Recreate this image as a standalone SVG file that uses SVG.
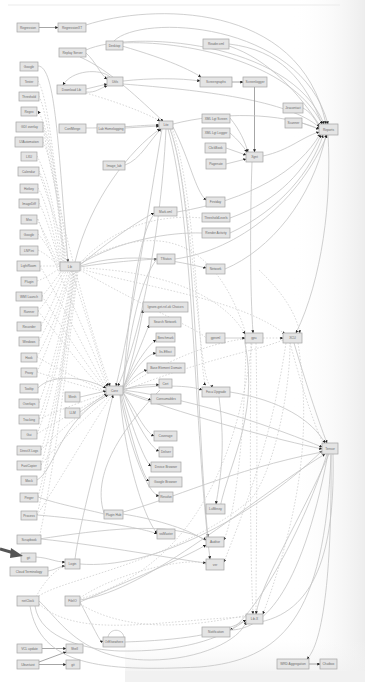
<svg xmlns="http://www.w3.org/2000/svg" width="365" height="682" viewBox="0 0 365 682">
<defs>
<style>
.n rect{fill:#e4e4e4;stroke:#a3a3a3;stroke-width:0.7}
.n text{font-family:"Liberation Sans",Arial,sans-serif;font-size:3.2px;fill:#6a6a6a;text-anchor:middle;dominant-baseline:central}
.e{fill:none;stroke:#c4c4c4;stroke-width:0.8}
.d{fill:none;stroke:#cfcfcf;stroke-width:0.8;stroke-dasharray:1.6 1.6}
.k{fill:none;stroke:#9c9c9c;stroke-width:0.9}
</style>
<marker id="a" viewBox="0 0 6 6" refX="5.5" refY="3" markerWidth="3" markerHeight="3" markerUnits="userSpaceOnUse" orient="auto"><path d="M0 0L6 3L0 6z" fill="#222"/></marker>
<linearGradient id="vg" x1="0" y1="0" x2="1" y2="0"><stop offset="0.8" stop-color="#fff" stop-opacity="0"/><stop offset="1" stop-color="#ededed"/></linearGradient>
<linearGradient id="bg" x1="0" y1="0" x2="0" y2="1"><stop offset="0" stop-color="#f6f6f6" stop-opacity="0"/><stop offset="1" stop-color="#efefef"/></linearGradient>
</defs>
<rect width="365" height="682" fill="#fff"/>
<rect width="365" height="682" fill="url(#vg)"/>
<rect x="125" y="640" width="240" height="42" fill="url(#bg)"/>
<rect x="125" y="671" width="240" height="11" fill="#f1f1f1"/>
<line x1="8" y1="5" x2="340" y2="5" stroke="#ececec" stroke-width="1.2"/>

<g id="edges">
<path class="k" d="M39 27.5L58 27.5" marker-end="url(#a)"/>
<path class="e" d="M86 25C150 4 300 0 326 124" marker-end="url(#a)"/>
<path class="e" d="M114 41C140 14 300 20 328 124" marker-end="url(#a)"/>
<path class="e" d="M86 50C130 30 290 40 324 124" marker-end="url(#a)"/>
<path class="e" d="M86 53C96 62 100 74 107 79" marker-end="url(#a)"/>
<path class="e" d="M86 89L107 84" marker-end="url(#a)"/>
<path class="e" d="M86 92C96 93 100 88 107 86" marker-end="url(#a)"/>
<path class="e" d="M110 77C100 68 72 70 63 85" marker-end="url(#a)"/>
<path class="e" d="M123 81C150 78 180 78 200 81" marker-end="url(#a)"/>
<path class="e" d="M122 46C170 60 190 70 201 77" marker-end="url(#a)"/>
<path class="e" d="M123 84C200 90 290 100 320 128" marker-end="url(#a)"/>
<path class="e" d="M122 43C180 40 290 60 322 124" marker-end="url(#a)"/>
<path class="k" d="M232 82L243 82" marker-end="url(#a)"/>
<path class="k" d="M254.5 87L254.5 152" marker-end="url(#a)"/>
<path class="e" d="M229 44C280 50 305 80 322 124" marker-end="url(#a)"/>
<path class="e" d="M229 46C270 60 300 95 320 126" marker-end="url(#a)"/>
<path class="e" d="M303 108C310 112 315 118 319 127" marker-end="url(#a)"/>
<path class="e" d="M302 123L319 129" marker-end="url(#a)"/>
<path class="e" d="M263 156C290 150 300 138 319 132" marker-end="url(#a)"/>
<path class="e" d="M230 118C240 130 245 142 248 152" marker-end="url(#a)"/>
<path class="e" d="M230 133C238 140 243 146 247 152" marker-end="url(#a)"/>
<path class="e" d="M226 148L246 155" marker-end="url(#a)"/>
<path class="e" d="M226 164L246 159" marker-end="url(#a)"/>
<path class="e" d="M225 269C270 250 312 200 326 135" marker-end="url(#a)"/>
<path class="e" d="M230 233C280 210 312 170 323 135" marker-end="url(#a)"/>
<path class="e" d="M230 218C280 200 305 170 321 135" marker-end="url(#a)"/>
<path class="e" d="M177 212C250 200 300 170 320 134" marker-end="url(#a)"/>
<path class="e" d="M175 259C240 250 300 200 327 135" marker-end="url(#a)"/>
<path class="e" d="M328 135C332 200 322 280 296 333" marker-end="url(#a)"/>
<path class="e" d="M252 162C250 220 250 290 253 333" marker-end="url(#a)"/>
<path class="d" d="M259 270C280 290 295 310 300 333" marker-end="url(#a)"/>
<path class="e" d="M173 124C220 112 280 112 319 129" marker-end="url(#a)"/>
<path class="e" d="M86 128C120 128 140 125 159 125" marker-end="url(#a)"/>
<path class="e" d="M125 128L159 126" marker-end="url(#a)"/>
<path class="e" d="M125 165C140 160 150 140 161 129" marker-end="url(#a)"/>
<path class="d" d="M86 93C110 100 140 110 160 121" marker-end="url(#a)"/>
<path class="e" d="M80 57C110 70 140 100 163 121" marker-end="url(#a)"/>
<path class="e" d="M162 129C150 200 130 330 116 386" marker-end="url(#a)"/>
<path class="e" d="M166 129C160 250 135 350 118 386" marker-end="url(#a)"/>
<path class="e" d="M75 262C90 200 130 150 160 129" marker-end="url(#a)"/>
<path class="e" d="M170 129C196 200 196 420 208 537" marker-end="url(#a)"/>
<path class="e" d="M168 129C194 220 194 430 210 559" marker-end="url(#a)"/>
<path class="d" d="M172 128C198 200 199 380 206 385" marker-end="url(#a)"/>
<path class="d" d="M171 129C197 220 198 400 213 385" marker-end="url(#a)"/>
<path class="e" d="M173 127C190 160 195 190 206 200" marker-end="url(#a)"/>
<path class="e" d="M38 66C56 66 58 150 68 262" marker-end="url(#a)"/>
<path class="d" d="M43 142C53 160 60 220 66 262"/>
<path class="d" d="M38 81C50 100 58 200 65 262"/>
<path class="d" d="M39 96C50 120 58 200 64 262"/>
<path class="d" d="M68 262C60 200 50 130 38 111" marker-end="url(#a)"/>
<path class="d" d="M43 127C52 150 60 220 63 262"/>
<path class="d" d="M37 156C50 180 58 230 62 262"/>
<path class="d" d="M39 171C50 190 56 235 61 263"/>
<path class="d" d="M38 188C48 205 55 240 60 264"/>
<path class="d" d="M39 203C48 220 54 245 60 265"/>
<path class="d" d="M37 219C46 235 54 255 60 266"/>
<path class="d" d="M38 234C48 245 54 260 60 267"/>
<path class="d" d="M38 250C48 255 55 262 60 268"/>
<path class="d" d="M40 266L60 266"/>
<path class="d" d="M37 281C46 278 54 272 60 268"/>
<path class="d" d="M42 296C48 290 56 278 62 271"/>
<path class="d" d="M38 311C48 300 56 285 64 271"/>
<path class="d" d="M41 326C50 310 58 290 66 271"/>
<path class="d" d="M39 341C50 320 60 300 68 271"/>
<path class="d" d="M37 357C52 330 62 300 70 271"/>
<path class="d" d="M37 372C52 340 64 300 71 271"/>
<path class="d" d="M39 403C55 360 64 320 72 271"/>
<path class="d" d="M39 419C56 370 65 320 73 271"/>
<path class="d" d="M37 434C55 390 66 320 74 271"/>
<path class="d" d="M41 450C58 400 66 330 75 271"/>
<path class="d" d="M41 465C58 410 67 330 76 271"/>
<path class="d" d="M38 497C58 420 68 340 77 271"/>
<path class="d" d="M39 539C58 450 68 350 78 271"/>
<path class="d" d="M37 515C55 440 66 340 74 272"/>
<path class="d" d="M38 170C60 230 90 330 108 386" marker-end="url(#a)"/>
<path class="d" d="M43 128C60 220 90 330 110 386" marker-end="url(#a)"/>
<path class="d" d="M38 219C60 280 90 340 107 387" marker-end="url(#a)"/>
<path class="d" d="M40 266C60 300 90 360 106 388"/>
<path class="d" d="M42 296C70 340 90 370 106 389"/>
<path class="d" d="M38 311C70 350 90 380 106 390"/>
<path class="d" d="M37 357C60 370 90 385 106 391"/>
<path class="d" d="M37 372C60 380 90 388 106 392"/>
<path class="d" d="M39 419C60 410 90 398 106 394"/>
<path class="d" d="M37 434C60 420 90 402 107 395"/>
<path class="d" d="M41 450C60 430 90 405 108 395"/>
<path class="d" d="M41 465C60 440 95 410 110 395"/>
<path class="d" d="M37 515C60 480 95 420 112 395"/>
<path class="e" d="M38 388C50 375 80 375 106 388" marker-end="url(#a)"/>
<path class="e" d="M80 397L106 391" marker-end="url(#a)"/>
<path class="e" d="M80 412C90 405 100 397 107 394" marker-end="url(#a)"/>
<path class="e" d="M37 480C55 470 60 420 108 395" marker-end="url(#a)"/>
<path class="e" d="M38 497C60 505 90 510 104 514"/>
<path class="e" d="M75 559C80 520 100 450 113 395" marker-end="url(#a)"/>
<path class="e" d="M80 267C110 262 140 260 157 259" marker-end="url(#a)"/>
<path class="e" d="M80 265C110 240 140 220 154 213" marker-end="url(#a)"/>
<path class="e" d="M80 266C130 250 180 262 206 268" marker-end="url(#a)"/>
<path class="e" d="M80 264C120 240 170 232 202 233"/>
<path class="d" d="M80 263C120 220 170 215 202 218"/>
<path class="d" d="M80 268C150 270 220 290 245 334" marker-end="url(#a)"/>
<path class="d" d="M80 269C160 290 240 300 285 334" marker-end="url(#a)"/>
<path class="d" d="M80 262C140 230 210 220 246 334"/>
<path class="d" d="M80 270C150 310 200 330 206 338"/>
<path class="e" d="M123 389C130 370 140 330 143 310" marker-end="url(#a)"/>
<path class="e" d="M123 388C135 360 145 335 149 325" marker-end="url(#a)"/>
<path class="e" d="M123 388C135 365 148 345 156 340" marker-end="url(#a)"/>
<path class="e" d="M123 389C135 370 145 355 156 353" marker-end="url(#a)"/>
<path class="e" d="M123 390C130 380 140 372 147 370" marker-end="url(#a)"/>
<path class="e" d="M123 390C135 385 150 384 159 385" marker-end="url(#a)"/>
<path class="e" d="M123 391C135 395 145 398 151 400" marker-end="url(#a)"/>
<path class="e" d="M123 392C135 410 145 432 154 436" marker-end="url(#a)"/>
<path class="e" d="M123 392C135 420 150 448 159 451" marker-end="url(#a)"/>
<path class="e" d="M122 393C133 430 145 462 151 466" marker-end="url(#a)"/>
<path class="e" d="M121 394C132 440 143 478 149 481" marker-end="url(#a)"/>
<path class="e" d="M120 394C130 450 148 494 159 496" marker-end="url(#a)"/>
<path class="e" d="M120 395C125 460 145 520 157 533" marker-end="url(#a)"/>
<path class="e" d="M123 388C130 330 140 280 157 259"/>
<path class="e" d="M123 387C130 300 140 230 155 213"/>
<path class="e" d="M123 390C200 400 280 430 322 447" marker-end="url(#a)"/>
<path class="e" d="M123 392C200 420 280 440 322 449" marker-end="url(#a)"/>
<path class="d" d="M123 389C180 350 230 340 245 339"/>
<path class="d" d="M123 391C200 360 260 350 283 340"/>
<path class="e" d="M123 389C160 385 190 385 202 390" marker-end="url(#a)"/>
<path class="e" d="M230 392C280 400 312 420 325 443" marker-end="url(#a)"/>
<path class="e" d="M294 343C305 380 318 420 327 443" marker-end="url(#a)"/>
<path class="d" d="M290 343C300 380 312 420 323 443"/>
<path class="e" d="M219 397C226 450 220 480 216 504" marker-end="url(#a)"/>
<path class="e" d="M219 514C225 470 260 420 245 343"/>
<path class="e" d="M225 338L245 338" marker-end="url(#a)"/>
<path class="d" d="M263 338L283 338" marker-end="url(#a)"/>
<path class="d" d="M251 343C250 450 250 550 253 614" marker-end="url(#a)"/>
<path class="d" d="M256 343C258 450 256 550 256 614"/>
<path class="d" d="M246 343C245 400 240 500 224 540" marker-end="url(#a)"/>
<path class="d" d="M286 343C270 450 240 520 224 562" marker-end="url(#a)"/>
<path class="d" d="M298 343C310 420 305 500 263 614" marker-end="url(#a)"/>
<path class="e" d="M331 454C332 550 326 640 307 659" marker-end="url(#a)"/>
<path class="e" d="M329 454C300 520 262 580 256 614" marker-end="url(#a)"/>
<path class="e" d="M327 454C300 540 250 620 230 630" marker-end="url(#a)"/>
<path class="e" d="M333 454C335 540 320 610 260 622"/>
<path class="k" d="M309 664L320 664" marker-end="url(#a)"/>
<path class="k" d="M42 648.5L66 648.5" marker-end="url(#a)"/>
<path class="k" d="M39 664.5L66 664.5" marker-end="url(#a)"/>
<path class="k" d="M39 662L66 652" marker-end="url(#a)"/>
<path class="e" d="M36 557C50 558 55 562 65 562" marker-end="url(#a)"/>
<path class="e" d="M48 571C55 570 60 566 65 566" marker-end="url(#a)"/>
<path class="e" d="M80 564C150 570 250 520 322 451" marker-end="url(#a)"/>
<path class="e" d="M80 600C150 590 250 500 325 454" marker-end="url(#a)"/>
<path class="e" d="M80 602C100 640 100 642 103 641" marker-end="url(#a)"/>
<path class="e" d="M108 637C110 628 122 628 124 637"/>
<path class="e" d="M39 601C60 620 80 660 150 660C200 660 240 640 246 622" marker-end="url(#a)"/>
<path class="e" d="M30 606C40 665 100 672 200 667C280 660 325 620 331 455"/>
<path class="e" d="M35 606C40 640 90 650 120 651C180 652 220 640 246 620"/>
<path class="e" d="M125 642C180 640 220 635 246 620" marker-end="url(#a)"/>
<path class="e" d="M41 539C100 545 180 560 206 563" marker-end="url(#a)"/>
<path class="e" d="M37 515C100 520 150 530 157 534" marker-end="url(#a)"/>
<path class="e" d="M39 539C100 530 170 520 206 540" marker-end="url(#a)"/>
<path class="e" d="M80 602C130 580 180 560 206 545" marker-end="url(#a)"/>
<path class="d" d="M80 598C120 570 200 555 206 565"/>
<path class="d" d="M36 597C50 570 70 560 80 562"/>
<path class="d" d="M39 596C60 580 180 560 250 500C270 480 290 400 290 343"/>
<path class="d" d="M80 599C150 580 230 520 252 343"/>
<path class="d" d="M80 604C140 640 220 620 254 614"/>
<path class="d" d="M39 604C80 640 160 620 246 617"/>
<path class="e" d="M123 514C160 520 190 530 206 541"/>
<path class="e" d="M123 512C170 500 230 470 322 452"/>
<path class="e" d="M104 513C90 470 130 420 160 390"/>
<path class="e" d="M230 630C260 630 300 600 328 454"/>
</g>

<g id="n1" class="n"><rect x="17" y="23" width="22" height="9"/><text x="28" y="27.5">Regression</text></g>
<g id="n2" class="n"><rect x="58" y="23" width="28" height="9"/><text x="72" y="27.5">RegressionXT</text></g>
<g id="n3" class="n"><rect x="59" y="48" width="27" height="9"/><text x="72.5" y="52.5">Replay Server</text></g>
<g id="n4" class="n"><rect x="106" y="41" width="17" height="9"/><text x="114.5" y="45.5">Desktop</text></g>
<g id="n5" class="n"><rect x="107" y="77" width="16" height="9"/><text x="115" y="81.5">Utils</text></g>
<g id="n6" class="n"><rect x="57" y="85" width="29" height="9"/><text x="71.5" y="89.5">Download Lib</text></g>
<g id="n7" class="n"><rect x="20" y="62" width="18" height="9"/><text x="29" y="66.5">Google</text></g>
<g id="n8" class="n"><rect x="20" y="77" width="18" height="9"/><text x="29" y="81.5">Tester</text></g>
<g id="n9" class="n"><rect x="19" y="92" width="20" height="9"/><text x="29" y="96.5">Threshold</text></g>
<g id="n10" class="n"><rect x="21" y="107" width="16" height="9"/><text x="29" y="111.5">Regex</text></g>
<g id="n11" class="n"><rect x="16" y="122" width="27" height="10"/><text x="29.5" y="127">GDI overlay</text></g>
<g id="n12" class="n"><rect x="15" y="137" width="28" height="10"/><text x="29" y="142">UIAutomation</text></g>
<g id="n13" class="n"><rect x="21" y="152" width="16" height="9"/><text x="29" y="156.5">LXU</text></g>
<g id="n14" class="n"><rect x="18" y="167" width="21" height="9"/><text x="28.5" y="171.5">Calendar</text></g>
<g id="n15" class="n"><rect x="20" y="184" width="18" height="9"/><text x="29" y="188.5">Hotkey</text></g>
<g id="n16" class="n"><rect x="19" y="199" width="20" height="9"/><text x="29" y="203.5">ImageDiff</text></g>
<g id="n17" class="n"><rect x="21" y="215" width="16" height="9"/><text x="29" y="219.5">Mss</text></g>
<g id="n18" class="n"><rect x="20" y="230" width="18" height="9"/><text x="29" y="234.5">Google</text></g>
<g id="n19" class="n"><rect x="20" y="246" width="18" height="9"/><text x="29" y="250.5">LNP.ini</text></g>
<g id="n20" class="n"><rect x="17" y="261" width="23" height="10"/><text x="28.5" y="266">LightRoom</text></g>
<g id="n21" class="n"><rect x="21" y="277" width="16" height="9"/><text x="29" y="281.5">Plugin</text></g>
<g id="n22" class="n"><rect x="16" y="292" width="26" height="9"/><text x="29" y="296.5">WMI Launch</text></g>
<g id="n23" class="n"><rect x="20" y="307" width="18" height="9"/><text x="29" y="311.5">Runner</text></g>
<g id="n24" class="n"><rect x="17" y="322" width="24" height="9"/><text x="29" y="326.5">Recorder</text></g>
<g id="n25" class="n"><rect x="19" y="337" width="20" height="9"/><text x="29" y="341.5">Windows</text></g>
<g id="n26" class="n"><rect x="21" y="353" width="16" height="9"/><text x="29" y="357.5">Hook</text></g>
<g id="n27" class="n"><rect x="21" y="368" width="16" height="9"/><text x="29" y="372.5">Proxy</text></g>
<g id="n28" class="n"><rect x="20" y="384" width="18" height="9"/><text x="29" y="388.5">Tooltip</text></g>
<g id="n29" class="n"><rect x="19" y="399" width="20" height="9"/><text x="29" y="403.5">Overlays</text></g>
<g id="n30" class="n"><rect x="19" y="415" width="20" height="9"/><text x="29" y="419.5">Tracking</text></g>
<g id="n31" class="n"><rect x="21" y="430" width="16" height="9"/><text x="29" y="434.5">Gui</text></g>
<g id="n32" class="n"><rect x="17" y="446" width="24" height="9"/><text x="29" y="450.5">DirectX Logs</text></g>
<g id="n33" class="n"><rect x="17" y="461" width="24" height="9"/><text x="29" y="465.5">FastCopier</text></g>
<g id="n34" class="n"><rect x="21" y="476" width="16" height="9"/><text x="29" y="480.5">Mock</text></g>
<g id="n35" class="n"><rect x="20" y="493" width="18" height="9"/><text x="29" y="497.5">Pinger</text></g>
<g id="n36" class="n"><rect x="21" y="511" width="16" height="9"/><text x="29" y="515.5">Process</text></g>
<g id="n37" class="n"><rect x="17" y="535" width="24" height="9"/><text x="29" y="539.5">Scrapbook</text></g>
<g id="n38" class="n"><rect x="21" y="553" width="15" height="9"/><text x="28.5" y="557.5">git</text></g>
<g id="n39" class="n"><rect x="10" y="567" width="38" height="9"/><text x="29" y="571.5">Cloud Terminology</text></g>
<g id="n40" class="n"><rect x="17" y="596" width="22" height="10"/><text x="28" y="601">netClock</text></g>
<g id="n41" class="n"><rect x="17" y="644" width="25" height="9"/><text x="29.5" y="648.5">VCL update</text></g>
<g id="n42" class="n"><rect x="17" y="660" width="22" height="9"/><text x="28" y="664.5">Ubuntuist</text></g>
<g id="n43" class="n"><rect x="65" y="559" width="15" height="10"/><text x="72.5" y="564">Login</text></g>
<g id="n44" class="n"><rect x="65" y="596" width="15" height="10"/><text x="72.5" y="601">FileIO</text></g>
<g id="n45" class="n"><rect x="66" y="644" width="17" height="9"/><text x="74.5" y="648.5">Shell</text></g>
<g id="n46" class="n"><rect x="66" y="660" width="14" height="9"/><text x="73" y="664.5">git</text></g>
<g id="n47" class="n"><rect x="103" y="637" width="22" height="10"/><text x="114" y="642">OrElsewhere</text></g>
<g id="n48" class="n"><rect x="65" y="392" width="15" height="10"/><text x="72.5" y="397">Mesh</text></g>
<g id="n49" class="n"><rect x="65" y="408" width="15" height="10"/><text x="72.5" y="413">LLM</text></g>
<g id="n50" class="n"><rect x="60" y="262" width="20" height="9"/><text x="70" y="266.5">Lib</text></g>
<g id="n51" class="n"><rect x="106" y="386" width="17" height="9"/><text x="114.5" y="390.5">Core</text></g>
<g id="n52" class="n"><rect x="104" y="510" width="19" height="9"/><text x="113.5" y="514.5">Plugin Hub</text></g>
<g id="n53" class="n"><rect x="59" y="124" width="27" height="9"/><text x="72.5" y="128.5">ConfMerge</text></g>
<g id="n54" class="n"><rect x="97" y="124" width="28" height="9"/><text x="111" y="128.5">Lab Homelogging</text></g>
<g id="n55" class="n"><rect x="103" y="161" width="22" height="9"/><text x="114" y="165.5">Image_lab</text></g>
<g id="n56" class="n"><rect x="159" y="121" width="14" height="8"/><text x="166" y="125">Lite</text></g>
<g id="n57" class="n"><rect x="203" y="39" width="26" height="10"/><text x="216" y="44">Reader.xml</text></g>
<g id="n58" class="n"><rect x="200" y="77" width="32" height="10"/><text x="216" y="82">Screengraphs</text></g>
<g id="n59" class="n"><rect x="243" y="77" width="24" height="10"/><text x="255" y="82">Screenlogger</text></g>
<g id="n60" class="n"><rect x="202" y="114" width="28" height="9"/><text x="216" y="118.5">XML Lgt Screen</text></g>
<g id="n61" class="n"><rect x="202" y="128" width="28" height="10"/><text x="216" y="133">XML Lgt Logger</text></g>
<g id="n62" class="n"><rect x="205" y="143" width="21" height="10"/><text x="215.5" y="148">ClickBook</text></g>
<g id="n63" class="n"><rect x="206" y="159" width="20" height="10"/><text x="216" y="164">Pagenate</text></g>
<g id="n64" class="n"><rect x="283" y="103" width="20" height="10"/><text x="293" y="108">Jiracontact</text></g>
<g id="n65" class="n"><rect x="285" y="118" width="17" height="10"/><text x="293.5" y="123">Scanner</text></g>
<g id="n66" class="n"><rect x="319" y="124" width="19" height="11"/><text x="328.5" y="129.5">Reports</text></g>
<g id="n67" class="n"><rect x="246" y="152" width="17" height="10"/><text x="254.5" y="157">Xgnt</text></g>
<g id="n68" class="n"><rect x="154" y="207" width="23" height="9"/><text x="165.5" y="211.5">Mark.xml</text></g>
<g id="n69" class="n"><rect x="206" y="197" width="19" height="10"/><text x="215.5" y="202">Firstday</text></g>
<g id="n70" class="n"><rect x="202" y="213" width="28" height="9"/><text x="216" y="217.5">ThresholdLevels</text></g>
<g id="n71" class="n"><rect x="202" y="228" width="28" height="10"/><text x="216" y="233">Render Activity</text></g>
<g id="n72" class="n"><rect x="157" y="254" width="18" height="10"/><text x="166" y="259">TStatus</text></g>
<g id="n73" class="n"><rect x="206" y="264" width="19" height="10"/><text x="215.5" y="269">Network</text></g>
<g id="n74" class="n"><rect x="143" y="302" width="45" height="10"/><text x="165.5" y="307">Ignore-get-rel-ok Choices</text></g>
<g id="n75" class="n"><rect x="149" y="317" width="32" height="10"/><text x="165" y="322">Search Network</text></g>
<g id="n76" class="n"><rect x="156" y="333" width="19" height="9"/><text x="165.5" y="337.5">Benchmark</text></g>
<g id="n77" class="n"><rect x="206" y="333" width="19" height="10"/><text x="215.5" y="338">gprxml</text></g>
<g id="n78" class="n"><rect x="245" y="333" width="18" height="10"/><text x="254" y="338">gpu</text></g>
<g id="n79" class="n"><rect x="283" y="333" width="19" height="10"/><text x="292.5" y="338">XCU</text></g>
<g id="n80" class="n"><rect x="156" y="347" width="19" height="9"/><text x="165.5" y="351.5">Its-Effect</text></g>
<g id="n81" class="n"><rect x="147" y="363" width="38" height="10"/><text x="166" y="368">Base Element Domain</text></g>
<g id="n82" class="n"><rect x="159" y="379" width="13" height="9"/><text x="165.5" y="383.5">Cert</text></g>
<g id="n83" class="n"><rect x="151" y="394" width="30" height="10"/><text x="166" y="399">Consumables</text></g>
<g id="n84" class="n"><rect x="202" y="387" width="28" height="10"/><text x="216" y="392">Foca Upgrade</text></g>
<g id="n85" class="n"><rect x="154" y="431" width="23" height="10"/><text x="165.5" y="436">Coverage</text></g>
<g id="n86" class="n"><rect x="159" y="447" width="14" height="10"/><text x="166" y="452">Deliver</text></g>
<g id="n87" class="n"><rect x="151" y="462" width="30" height="10"/><text x="166" y="467">Device Browser</text></g>
<g id="n88" class="n"><rect x="149" y="477" width="33" height="10"/><text x="165.5" y="482">Google Browser</text></g>
<g id="n89" class="n"><rect x="159" y="492" width="14" height="10"/><text x="166" y="497">Resolve</text></g>
<g id="n90" class="n"><rect x="206" y="504" width="19" height="10"/><text x="215.5" y="509">LuMessy</text></g>
<g id="n91" class="n"><rect x="157" y="529" width="18" height="10"/><text x="166" y="534">ssiMaster</text></g>
<g id="n92" class="n"><rect x="206" y="537" width="18" height="10"/><text x="215" y="542">Auditor</text></g>
<g id="n93" class="n"><rect x="206" y="559" width="18" height="11"/><text x="215" y="564.5">ver</text></g>
<g id="n94" class="n"><rect x="202" y="627" width="28" height="10"/><text x="216" y="632">Notification</text></g>
<g id="n95" class="n"><rect x="322" y="443" width="16" height="11"/><text x="330" y="448.5">Tensor</text></g>
<g id="n96" class="n"><rect x="246" y="614" width="17" height="10"/><text x="254.5" y="619">Lib.X</text></g>
<g id="n97" class="n"><rect x="277" y="659" width="32" height="10"/><text x="293" y="664">WRD Aggregation</text></g>
<g id="n98" class="n"><rect x="320" y="659" width="17" height="10"/><text x="328.5" y="664">Chatbox</text></g>

<g id="pointer"><path d="M0 549L14 553" stroke="#555" stroke-width="3"/><path d="M11 548L23 556L10 558z" fill="#555"/></g>
</svg>
